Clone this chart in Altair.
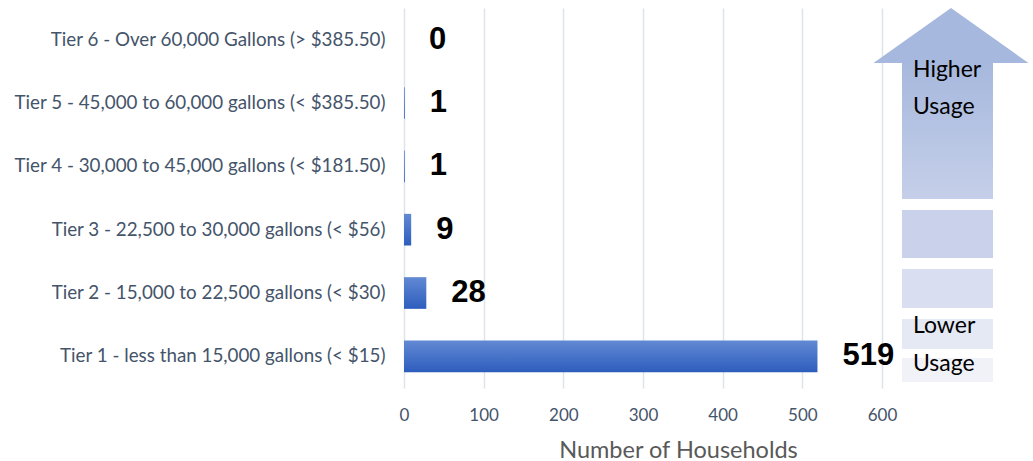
import altair as alt
import pandas as pd

categories = [
    "Tier 6 - Over 60,000 Gallons (> $385.50)",
    "Tier 5 - 45,000 to 60,000 gallons (< $385.50)",
    "Tier 4 - 30,000 to 45,000 gallons (< $181.50)",
    "Tier 3 - 22,500 to 30,000 gallons (< $56)",
    "Tier 2 - 15,000 to 22,500 gallons (< $30)",
    "Tier 1 - less than 15,000 gallons (< $15)",
]
households = [0, 1, 1, 9, 28, 519]
x_ticks = [0, 100, 200, 300, 400, 500, 600]

df = pd.DataFrame({"tier": categories, "n": households})
one = pd.DataFrame({"k": [0]})

W, H = 478, 380
FONT = "Lato"
ox, oy = 404, 8

x = alt.X("n:Q", scale=alt.Scale(domain=[0, 600], nice=False),
          axis=alt.Axis(values=x_ticks, title="Number of Households", grid=True,
                        gridColor="#dfe3ea", gridWidth=1.5, domain=False, ticks=False,
                        labelFlush=False,
                        labelFontSize=17, labelColor="#44546a", labelFont=FONT,
                        labelPadding=19, titleFont=FONT, titleFontSize=23.5,
                        titleFontWeight="normal", titleColor="#595959", titlePadding=15,
                        titleX=678 - ox))
y = alt.Y("tier:N", sort=categories,
          scale=alt.Scale(paddingInner=0.5, paddingOuter=0.25),
          axis=alt.Axis(title=None, domain=False, ticks=False, labelFont=FONT,
                        labelFontSize=18.8, labelColor="#44546a", labelPadding=19,
                        labelLimit=420))

bar_grad = alt.LinearGradient(gradient="linear", x1=0, x2=0, y1=0, y2=1,
                              stops=[alt.GradientStop(offset=0, color="#6289d3"),
                                     alt.GradientStop(offset=1, color="#2d5dbd")])
bars = alt.Chart(df).mark_bar(color=bar_grad).encode(x=x, y=y)
labels = alt.Chart(df).mark_text(align="left", dx=25, font="Liberation Sans",
                                 fontWeight="bold", fontSize=31, color="#000000").encode(
    x="n:Q", y=alt.Y("tier:N", sort=categories), text="n:Q")

# decorative arrow (pixel positions relative to plot origin)
head = alt.Chart(one).mark_point(shape="M-1,0.355L0,-0.355L1,0.355Z", filled=True,
                                 opacity=1, color="#a6b8dd", size=24025).encode(
    x=alt.value(951 - ox), y=alt.value(35.5 - oy))
shaft_grad = alt.LinearGradient(gradient="linear", x1=0, x2=0, y1=0, y2=1,
                                stops=[alt.GradientStop(offset=0, color="#a6b8dd"),
                                       alt.GradientStop(offset=1, color="#c5cfe9")])
shaft = alt.Chart(one).mark_rect(color=shaft_grad).encode(
    x=alt.value(902 - ox), x2=alt.value(993 - ox), y=alt.value(62 - oy), y2=alt.value(199 - oy))
blocks = []
for (y0, y1, c) in [(210, 258, "#c9d2ea"), (269, 308, "#d9dff0"), (319, 349, "#e5e9f4"), (358, 382, "#f0f2f8")]:
    blocks.append(alt.Chart(one).mark_rect(color=c).encode(
        x=alt.value(902 - ox), x2=alt.value(993 - ox), y=alt.value(y0 - oy), y2=alt.value(y1 - oy)))
texts = []
for (t, yy) in [("Higher", 77), ("Usage", 114), ("Lower", 333), ("Usage", 371)]:
    texts.append(alt.Chart(one).mark_text(align="left", baseline="alphabetic", font=FONT,
                                          fontSize=23, color="#000000").encode(
        x=alt.value(913 - ox), y=alt.value(yy - oy), text=alt.value(t)))

chart = alt.layer(bars, labels, head, shaft, *blocks, *texts).properties(
    width=W, height=H, autosize="none", background="white",
    padding={"left": ox, "top": oy, "right": 1033 - ox - W, "bottom": 461 - oy - H},
).configure_view(strokeWidth=0, stroke="transparent")

chart.save("out.html", embed_options={"renderer": "svg", "actions": False})
